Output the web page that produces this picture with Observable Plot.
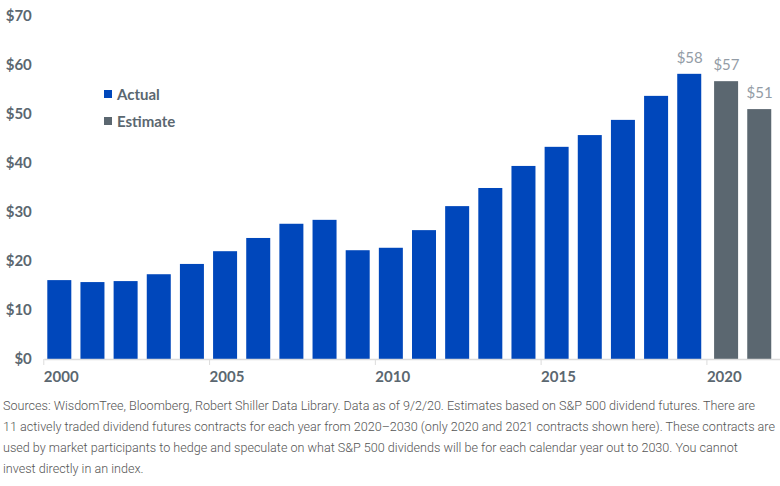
<!DOCTYPE html>
<html>
<head>
<meta charset="utf-8">
<script src="https://cdn.jsdelivr.net/npm/d3@7"></script>
<script src="https://cdn.jsdelivr.net/npm/@observablehq/plot@0.6"></script>
<style>
  html, body { margin: 0; padding: 0; background: #fff; }
  #wrap { position: relative; width: 780px; overflow: hidden; }
  .legend { position: absolute; left: 104px; top: 80px; font-family: Lato, sans-serif; font-weight: 700; font-size: 15px; color: #5b6770; }
  .legend div { display: flex; align-items: center; height: 27px; }
  .legend span.sw { display: inline-block; width: 8px; height: 8px; margin-right: 5px; }
  .caption { font-family: Roboto, sans-serif; font-weight: 300; font-size: 13.5px; line-height: 21px; color: #555; margin-top: 3px; padding-left: 3px; }
  .caption div { white-space: nowrap; transform-origin: 0 0; }
</style>
</head>
<body>
<div id="wrap"></div>
<script>
const actualYears = [2000,2001,2002,2003,2004,2005,2006,2007,2008,2009,2010,2011,2012,2013,2014,2015,2016,2017,2018,2019];
const actualValues = [16.1,15.7,15.9,17.3,19.4,22.0,24.7,27.6,28.4,22.2,22.7,26.3,31.2,34.9,39.4,43.3,45.7,48.8,53.7,58.2];
const estimateYears = [2020,2021];
const estimateValues = [56.7,51.0];
const labeledYears = [2019,2020,2021];
const yTicks = [0,10,20,30,40,50,60,70];
const xTicks = [2000,2005,2010,2015,2020];
const seriesNames = ["Actual","Estimate"];
const seriesColors = ["#0047bb","#5b6770"];
const captionLines = [
  "Sources: WisdomTree, Bloomberg, Robert Shiller Data Library. Data as of 9/2/20. Estimates based on S&P 500 dividend futures. There are",
  "11 actively traded dividend futures contracts for each year from 2020\u20132030 (only 2020 and 2021 contracts shown here). These contracts are",
  "used by market participants to hedge and speculate on what S&P 500 dividends will be for each calendar year out to 2030. You cannot",
  "invest directly in an index."
];

const actual = actualYears.map((y,i) => ({year: y, value: actualValues[i], series: "Actual"}));
const estimate = estimateYears.map((y,i) => ({year: y, value: estimateValues[i], series: "Estimate"}));
const all = actual.concat(estimate);
const labeled = all.filter(d => labeledYears.includes(d.year));

const chart = Plot.plot({
  width: 780,
  height: 392,
  marginTop: 16,
  marginBottom: 33,
  marginLeft: 44.3,
  marginRight: 0,
  style: {fontFamily: "Lato, sans-serif", background: "#fff"},
  x: {domain: [2000, 2022.19], axis: null},
  y: {domain: [0, 70], axis: null},
  marks: [
    Plot.rectY(actual, {x1: "year", x2: d => d.year + 1, y: "value", fill: seriesColors[0], insetLeft: 3, insetRight: 6.15}),
    Plot.rectY(estimate, {x1: "year", x2: d => d.year + 1, y: "value", fill: seriesColors[1], insetLeft: 6.7, insetRight: 2.45}),
    Plot.ruleY([0], {stroke: "#dcdcdc", strokeWidth: 1.5}),
    Plot.axisX(xTicks, {label: null, tickSize: 6, stroke: "#dcdcdc", tickFormat: d => String(d), textAnchor: "start", dx: -1, tickPadding: 6, fontSize: 15, fontWeight: 700, fill: "#5b6770"}),
    Plot.axisY(yTicks, {label: null, tickSize: 0, tickPadding: 13, tickFormat: d => "$" + d, fontSize: 15, fontWeight: 700, fill: "#5b6770"}),
    Plot.text(labeled, {x: d => d.year + (d.series === "Actual" ? 0.5 - 1.6/33.15 : 0.5 + 2/33.15), y: "value", text: d => "$" + Math.round(d.value), dy: -16, fontSize: 15, fill: "#939ca6", fontFamily: "Lato, sans-serif"})
  ]
});

const wrap = document.getElementById("wrap");
wrap.appendChild(chart);

const legend = document.createElement("div");
legend.className = "legend";
seriesNames.forEach((n, i) => {
  const row = document.createElement("div");
  row.innerHTML = `<span class="sw" style="background:${seriesColors[i]}"></span>${n}`;
  legend.appendChild(row);
});
wrap.appendChild(legend);

const cap = document.createElement("div");
cap.className = "caption";
wrap.appendChild(cap);
const lineDivs = captionLines.map(t => {
  const d = document.createElement("div");
  d.textContent = t;
  cap.appendChild(d);
  return d;
});
const span = document.createElement("span");
span.style.cssText = "position:absolute;visibility:hidden;white-space:nowrap;font-family:Roboto,sans-serif;font-weight:300;font-size:13.5px";
document.body.appendChild(span);
const widths = captionLines.map(t => { span.textContent = t; return span.getBoundingClientRect().width; });
span.remove();
const sx = 772 / Math.max(...widths);
lineDivs.forEach(d => { d.style.transform = `scaleX(${sx})`; });
</script>
</body>
</html>
